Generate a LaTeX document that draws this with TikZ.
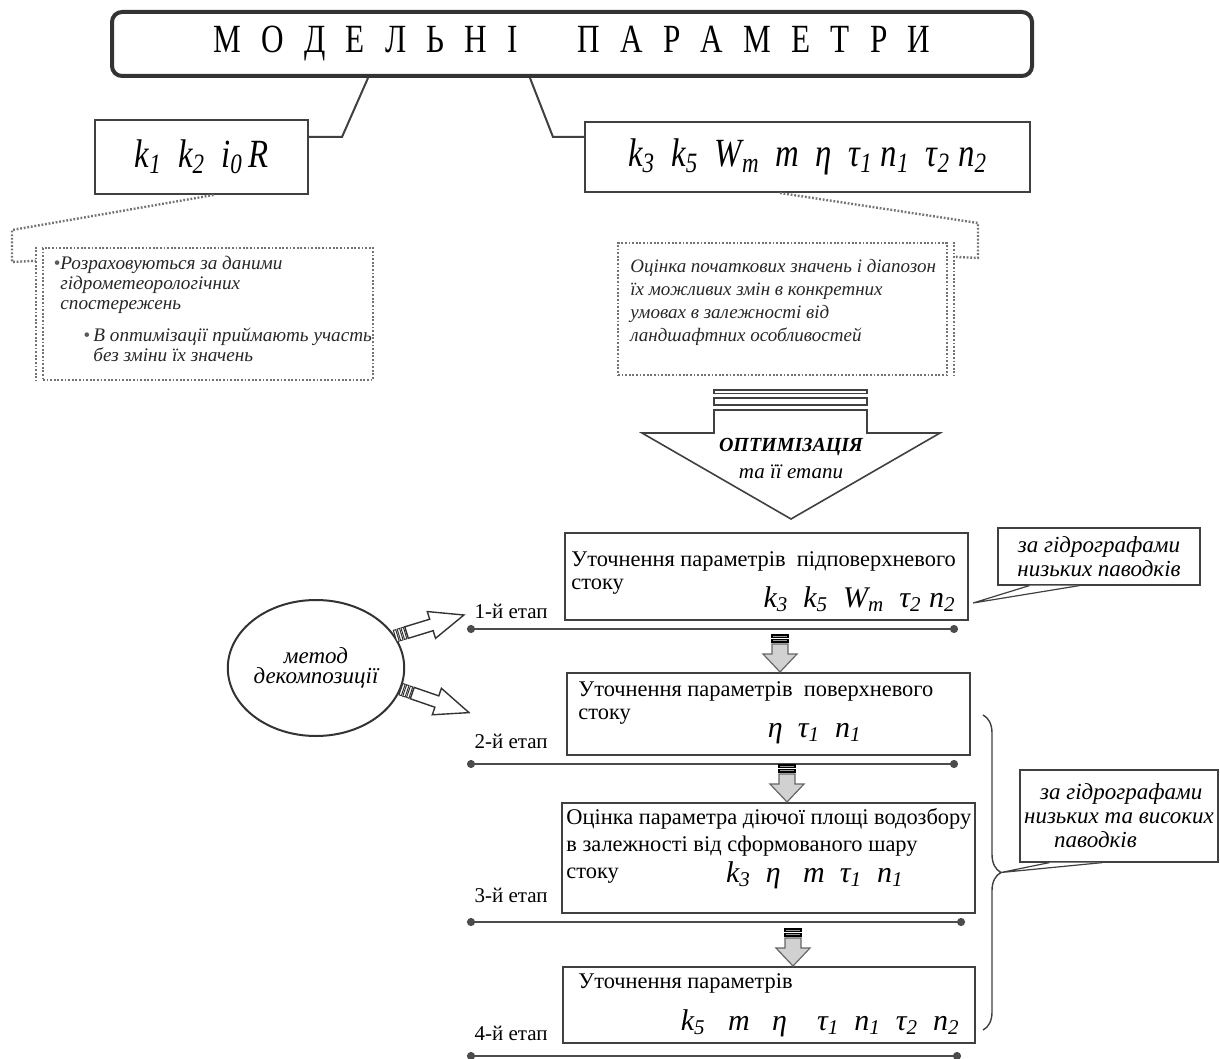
\documentclass[tikz,border=0pt]{standalone}
\usepackage{fontspec}
\usepackage{graphicx}
\setmainfont{Liberation Serif}
\usetikzlibrary{arrows.meta,shapes.geometric,decorations.pathreplacing}
\newcommand{\pv}[2]{\textit{#1}\textsubscript{\textit{#2}}}
\newcommand{\lsp}{\hspace{13pt}}

\begin{document}
\begin{tikzpicture}[x=0.5pt,y=-0.5pt,
  frame/.style={draw=black!75,line width=1pt,fill=white,inner sep=0pt},
  link/.style={draw=black!75,line width=1pt},
  dots/.style={draw=black!55,line width=1.2pt,dash pattern=on 0.9pt off 0.9pt},
  note/.style={font=\fontsize{9.6}{10}\selectfont\itshape,align=left,inner sep=0pt,anchor=north west,text=black!85},
  stagetext/.style={font=\fontsize{11.2}{13}\selectfont,inner sep=0pt,anchor=base west},
  param/.style={font=\fontsize{15}{15}\selectfont\itshape,inner sep=0pt,anchor=base east},
  etap/.style={font=\fontsize{10.5}{12}\selectfont,inner sep=0pt,anchor=base east},
  stageline/.style={draw=black!70,line width=1pt,{Circle[length=4pt]}-{Circle[length=4pt]}},
  callout/.style={draw=black!75,line width=0.6pt,fill=white,inner sep=0pt,font=\fontsize{11.5}{12}\selectfont\itshape,align=center},
  pics/grayarrow/.style={code={
    \draw[black!60,line width=0.6pt,fill=black!18] (0,0) -- (-17,-18) -- (-8,-18) -- (-8,-28) -- (8,-28) -- (8,-18) -- (17,-18) -- cycle;
    \draw[black,line width=0.6pt,fill=black!40] (-8,-30) rectangle (8,-32.5);
    \draw[black,line width=0.6pt,fill=black!40] (-8,-34.5) rectangle (8,-37);
  }},
  pics/blockarrow/.style={code={
    \draw[black!80,line width=0.7pt,fill=white] (12,-6) -- (38,-6) -- (38,-14) -- (72,0) -- (38,14) -- (38,6) -- (12,6) -- cycle;
    \foreach \s in {0,4,8}
      \draw[black!80,line width=0.5pt,fill=white] (\s,-6) rectangle (\s+2.5,6);
  }}
]
\useasboundingbox (0,0) rectangle (1220,1059);

\node[frame,line width=2pt,draw=black!80,rounded corners=5pt,minimum width=460pt,minimum height=32pt] (title) at (572,44)
  {\fontsize{20}{20}\selectfont\scalebox{0.78}[1]{М\lsp О\lsp Д\lsp Е\lsp Л\lsp Ь\lsp Н\lsp І\hspace{38pt}П\lsp А\lsp Р\lsp А\lsp М\lsp Е\lsp Т\lsp Р\lsp И}};

\node[frame,minimum width=106.5pt,minimum height=37pt,font=\fontsize{20}{20}\selectfont\itshape] (kL) at (201.5,157)
  {\scalebox{0.82}[1]{\pv{k}{1}\ \ \pv{k}{2}\ \ \pv{i}{0}\,R}};
\node[frame,minimum width=222.5pt,minimum height=35pt,font=\fontsize{20}{20}\selectfont\itshape] (kR) at (807.5,157)
  {\scalebox{0.82}[1]{\pv{k}{3}\ \ \pv{k}{5}\ \ \pv{W}{m}\ \ m\ \ η\ \ \pv{τ}{1}\ \pv{n}{1}\ \ \pv{τ}{2}\ \pv{n}{2}}};

\draw[link] ([xshift=-102pt]title.south) -- (342,137) coordinate (bL) -- (kL.east |- bL);
\draw[link] ([xshift=-21pt]title.south) -- (553,137) coordinate (bR) -- (kR.west |- bR);

\node[dots,minimum width=165pt,minimum height=66pt] (nL) at (208,314) {};
\node[note] (nLa) at (60,256) {\llap{\textcolor{black!65}{\textbullet}}Розраховуються за даними\\гідрометеорологічних\\спостережень};
\node[note] (nLb) at (93,327) {\llap{\textcolor{black!65}{\textbullet}\,}В оптимізації приймають участь\\без зміни їх значень};
\draw[dots] ([xshift=-3pt]nL.north west) -- ([xshift=-3pt]nL.south west);
\draw[dots] ([xshift=6pt]kL.south) -- (12,230) -- (12,262) -- ([xshift=-3pt,yshift=-7pt]nL.north west);

\node[dots,minimum width=164.5pt,minimum height=66pt] (nR) at (782.5,309) {};
\node[note,font=\fontsize{9.5}{11.5}\selectfont\itshape] (nRa) at (630,259) {Оцінка початкових значень і діапозон\\їх можливих змін в конкретних\\умовах в залежності від\\ландшафтних особливостей};
\draw[dots] ([xshift=3pt]nR.north east) -- ([xshift=3pt]nR.south east);
\draw[dots] ([xshift=-13.75pt]kR.south) -- (978,223) -- (978,258) -- ([xshift=3pt,yshift=-7.5pt]nR.north east);

\draw[link,line width=0.8pt] (714,390) rectangle (867,393.5);
\draw[link,line width=0.8pt] (714,398) rectangle (867,405);
\draw[link,line width=0.8pt,fill=white] (714,410) -- (714,433) -- (642,433) -- (791,519) -- (940,433) -- (867,433) -- (867,410) -- cycle;
\node[font=\fontsize{10}{12}\selectfont\bfseries\itshape] (opt) at (791,447) {ОПТИМІЗАЦІЯ};
\node[font=\fontsize{10.5}{12}\selectfont\itshape] (optsub) at (791,472) {та її етапи};

\node[frame,minimum width=201.5pt,minimum height=43.5pt] (s1) at (766.5,576.5) {};
\node[stagetext] (s1a) at (571,566) {Уточнення параметрів\ \ підповерхневого};
\node[stagetext] (s1b) at (571,589) {стоку};
\node[param] (s1p) at (956,607) {\pv{k}{3}\ \ \pv{k}{5}\ \ \pv{W}{m}\ \ \pv{τ}{2}\ \pv{n}{2}};

\node[frame,minimum width=201.5pt,minimum height=41pt] (s2) at (768.5,714) {};
\node[stagetext] (s2a) at (578,696) {Уточнення параметрів\ \ поверхневого};
\node[stagetext] (s2b) at (578,719) {стоку};
\node[param] (s2p) at (862,737) {η\ \ \pv{τ}{1}\ \ \pv{n}{1}};

\node[frame,minimum width=206.5pt,minimum height=55pt] (s3) at (768.5,858) {};
\node[stagetext,font=\fontsize{11.2}{13.5}\selectfont,align=left,anchor=north west] (s3a) at (566,808) {Оцінка параметра діючої площі водозбору\\в залежності від сформованого шару\\стоку};
\node[param] (s3p) at (904,882) {\pv{k}{3}\ \ η\ \ \ m\ \ \pv{τ}{1}\ \ \pv{n}{1}};

\node[frame,minimum width=206pt,minimum height=38pt] (s4) at (769,1005) {};
\node[stagetext] (s4a) at (578,988) {Уточнення параметрів};
\node[param] (s4p) at (960,1030) {\pv{k}{5}\ \ \ m\ \ \ η\ \ \ \ \pv{τ}{1}\ \ \pv{n}{1}\ \ \pv{τ}{2}\ \ \pv{n}{2}};

\coordinate (l1a) at (467,629); \coordinate (l1b) at (958,629);
\coordinate (l2a) at (467,764); \coordinate (l2b) at (958,764);
\coordinate (l3a) at (467,922); \coordinate (l3b) at (965,922);
\coordinate (l4a) at (467,1056); \coordinate (l4b) at (961,1056);
\draw[stageline] (l1a) -- (l1b);
\draw[stageline] (l2a) -- (l2b);
\draw[stageline] (l3a) -- (l3b);
\draw[stageline] (l4a) -- (l4b);
\node[etap] (e1) at (548,618) {1-й етап};
\node[etap] (e2) at (548,748) {2-й етап};
\node[etap] (e3) at (548,902) {3-й етап};
\node[etap] (e4) at (548,1040) {4-й етап};

\pic at ([xshift=5.75pt]s2.north) {grayarrow};
\pic at ([xshift=9.25pt]s3.north) {grayarrow};
\pic at ([xshift=12pt]s4.north) {grayarrow};

\node[draw=black!80,line width=1pt,ellipse,minimum width=77pt,minimum height=68pt,inner sep=0pt,align=center,font=\fontsize{11.5}{10}\selectfont\itshape] (dec) at (316,668) {метод\\декомпозиції};
\pic[rotate=17] at (dec.22) {blockarrow};
\pic[rotate=-19] at (dec.-14) {blockarrow};

\node[callout,minimum width=101pt,minimum height=28.5pt] (cA) at (1099,556.5) {за гідрографами\\низьких паводків};
\coordinate (tipA) at (973,603);
\path[draw=black!75,line width=0.6pt,fill=white] ([xshift=16pt]cA.south west) -- (tipA) -- ([xshift=41pt]cA.south west);

\draw[black!75,line width=0.7pt,decorate,decoration={brace,amplitude=9pt}] (983,715) -- (983,1030);
\coordinate (brTip) at (1001,872.5);
\node[callout,minimum width=99pt,minimum height=46pt,align=left] (cB) at (1119,816) {\hspace*{8pt}за гідрографами\\низьких та високих\\\hspace*{15pt}паводків};
\path[draw=black!75,line width=0.6pt,fill=white] ([xshift=15pt]cB.south west) -- (brTip) -- ([xshift=41.5pt]cB.south west);
\end{tikzpicture}
\end{document}
